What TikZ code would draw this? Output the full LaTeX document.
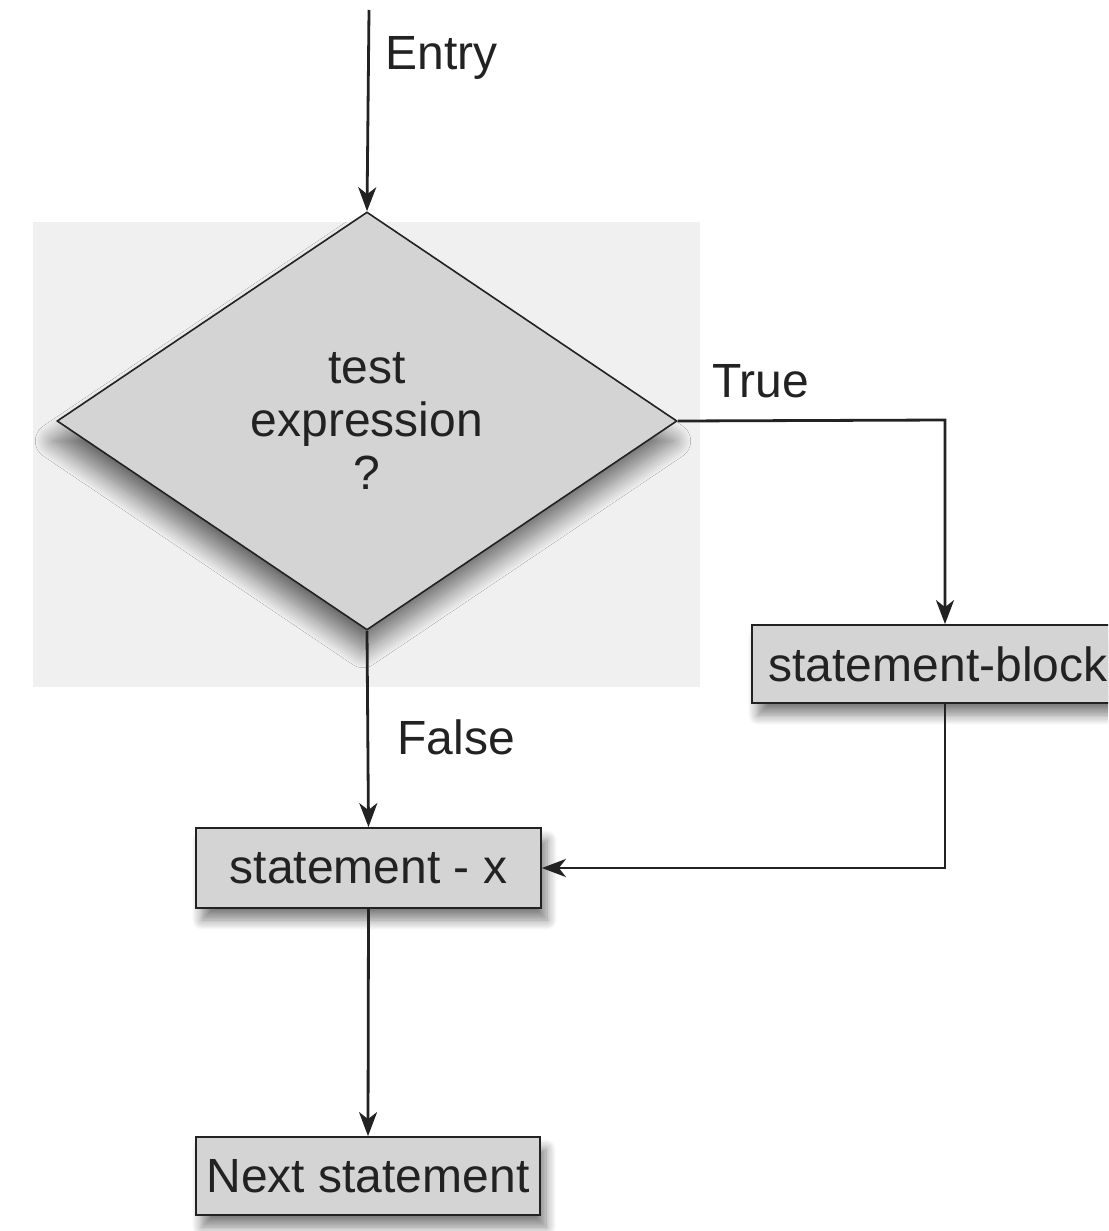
\documentclass[tikz,border=0pt]{standalone}
\usepackage{fontspec}
\setmainfont{Liberation Sans}
\usetikzlibrary{shapes.geometric,arrows.meta,shadows.blur}
\definecolor{panelgray}{HTML}{F0F0F0}
\definecolor{boxgray}{HTML}{D4D4D4}
\definecolor{inkgray}{HTML}{222222}
\begin{document}
\begin{tikzpicture}[x=0.5pt,y=-0.5pt,
  every node/.style={font=\fontsize{24}{26.5}\selectfont, text=inkgray},
  flowbox/.style={draw=inkgray, line width=0.9pt, fill=boxgray, inner sep=0pt,
    blur shadow={shadow xshift=3pt, shadow yshift=-6pt, shadow blur radius=5pt,
      shadow blur steps=10, shadow opacity=50}},
  decision/.style={diamond, draw=inkgray, line width=0.8pt, fill=boxgray, inner sep=0pt,
    minimum width=310pt, minimum height=209pt, align=center,
    blur shadow={shadow xshift=-2pt, shadow yshift=-10pt, shadow blur radius=9pt,
      shadow blur steps=20, shadow opacity=55}},
  flow/.style={draw=inkgray, line width=1.4pt, -{Stealth[length=12pt,width=9pt,inset=3.5pt]}},
  tag/.style={inner sep=0pt}
]
\useasboundingbox (0,0) rectangle (1108,1231);
\clip (0,0) rectangle (1108,1231);

% light panel behind the decision
\fill[panelgray] (33,222) rectangle (700,687);

% nodes
\coordinate (start) at (369,10);
\node[decision] (test) at (367,421) {test\\expression\\?};
\node[flowbox, minimum width=186pt, minimum height=39pt] (block) at (938,664) {statement-block};
\node[flowbox, minimum width=172.5pt, minimum height=40pt] (stmt) at (368.5,868) {statement - x};
\node[flowbox, minimum width=172pt, minimum height=39pt] (next) at (368,1176) {Next statement};

% labels
\node[tag, anchor=base west] (entrylbl) at (385,69) {Entry};
\node[tag, anchor=base west] (truelbl) at (712,397) {True};
\node[tag, anchor=base west] (falselbl) at (397,754) {False};

% connectors
\coordinate (tc) at (945,420);
\coordinate (bc) at (945,868);
\draw[flow] (start) -- (test.north);
\draw[flow] (test.east) -- (tc) -- (tc |- block.north);
\draw[flow] (test.south) -- (stmt.north);
\draw[flow] (block.south -| bc) -- (bc) -- (stmt.east);
\draw[flow] (stmt.south) -- (next.north);
\end{tikzpicture}
\end{document}
